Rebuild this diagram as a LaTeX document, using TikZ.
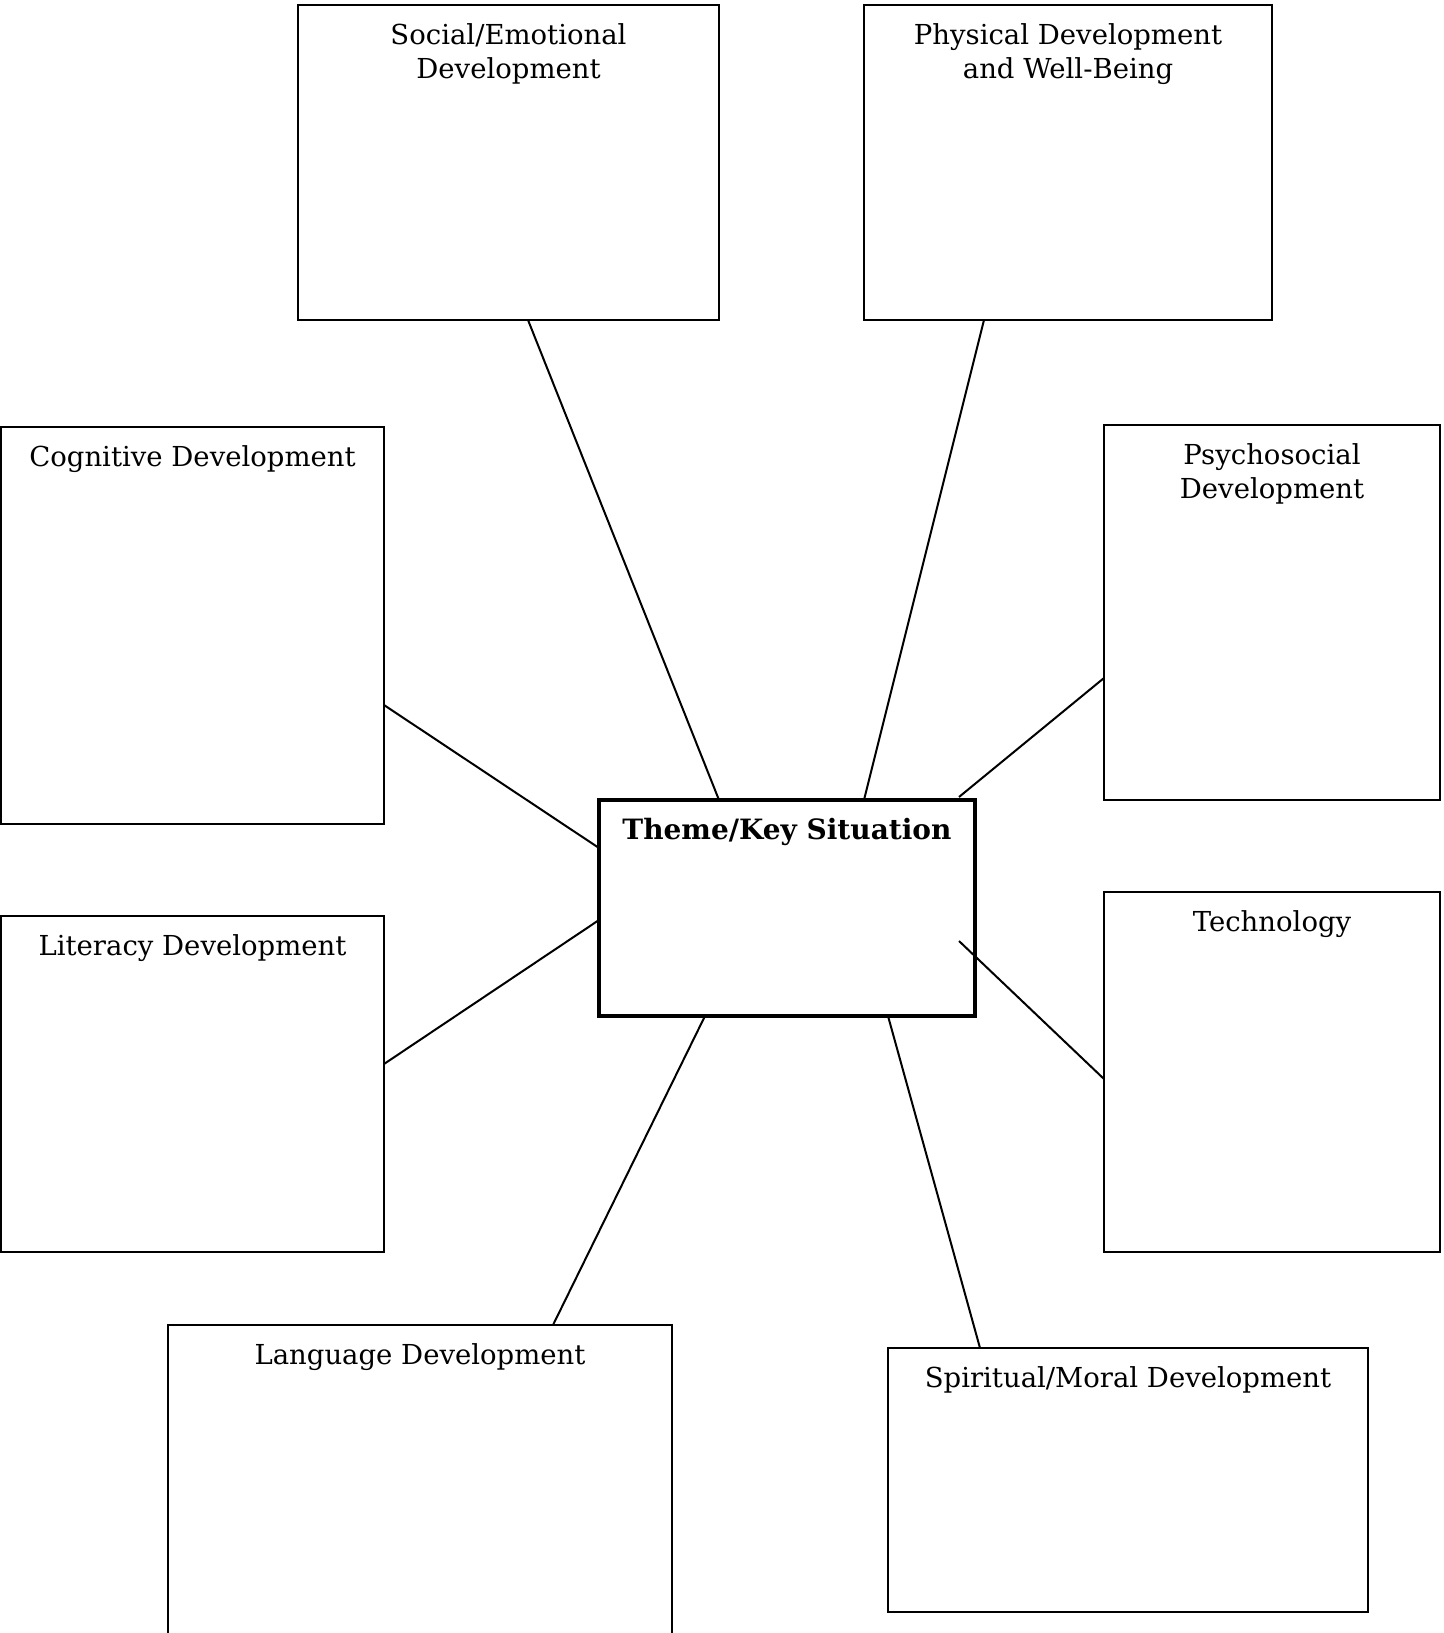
\documentclass[tikz,border=0pt]{standalone}
\usepackage{fontspec}
\setmainfont{DejaVu Serif}
\begin{document}
\begin{tikzpicture}[x=1pt,y=-1pt,
  box/.style={draw,line width=2pt,anchor=north west,inner sep=0,outer sep=0},
  ctrbox/.style={draw,line width=3.5pt,anchor=north west,inner sep=0,outer sep=0},
  lbl/.style={anchor=north,align=center,inner sep=0,font=\fontsize{27.5}{34}\selectfont},
  clbl/.style={anchor=north,align=center,inner sep=0,font=\fontsize{28}{34}\selectfont\bfseries},
  conn/.style={line width=2pt}]
\useasboundingbox (0,0) rectangle (1443,1633);
\begin{scope}
\clip (0,0) rectangle (1443,1633);
\node[box,minimum width=421,minimum height=315] (soc) at (298,5) {};
\node[box,minimum width=408,minimum height=315] (phy) at (864,5) {};
\node[box,minimum width=383,minimum height=397] (cog) at (1,427) {};
\node[box,minimum width=336,minimum height=375] (psy) at (1104,425) {};
\node[box,minimum width=383,minimum height=336] (lit) at (1,916) {};
\node[box,minimum width=336,minimum height=360] (tec) at (1104,892) {};
\node[box,minimum width=504,minimum height=340] (lan) at (168,1325) {};
\node[box,minimum width=480,minimum height=264] (spi) at (888,1348) {};
\node[ctrbox,minimum width=376,minimum height=216] (ctr) at (599,800) {};
\end{scope}
\node[lbl] (tsoc) at ([yshift=-18]soc.north) {Social/Emotional\\Development};
\node[lbl] (tphy) at ([yshift=-18]phy.north) {Physical Development\\and Well-Being};
\node[lbl] (tcog) at ([yshift=-18]cog.north) {Cognitive Development};
\node[lbl] (tpsy) at ([yshift=-18]psy.north) {Psychosocial\\Development};
\node[lbl] (tlit) at ([yshift=-18]lit.north) {Literacy Development};
\node[lbl] (ttec) at ([yshift=-18]tec.north) {Technology};
\node[lbl] (tlan) at ([yshift=-18]lan.north) {Language Development};
\node[lbl] (tspi) at ([yshift=-18]spi.north) {Spiritual/Moral Development};
\node[clbl] (tctr) at ([yshift=-18]ctr.north) {Theme/Key Situation};
\draw[conn] ([xshift=230]soc.south west) -- ([xshift=120]ctr.north west);
\draw[conn] ([xshift=120]phy.south west) -- ([xshift=265]ctr.north west);
\draw[conn] ([yshift=119]cog.south east) -- ([yshift=-48]ctr.north west);
\draw[conn] ([yshift=122]psy.south west) -- ([xshift=360,yshift=3]ctr.north west);
\draw[conn] ([yshift=-148]lit.north east) -- ([yshift=-120]ctr.north west);
\draw[conn] ([yshift=-187]tec.north west) -- ([xshift=360,yshift=-141]ctr.north west);
\draw[conn] ([xshift=385]lan.north west) -- ([xshift=106]ctr.south west);
\draw[conn] ([xshift=92]spi.north west) -- ([xshift=289]ctr.south west);
\end{tikzpicture}
\end{document}
